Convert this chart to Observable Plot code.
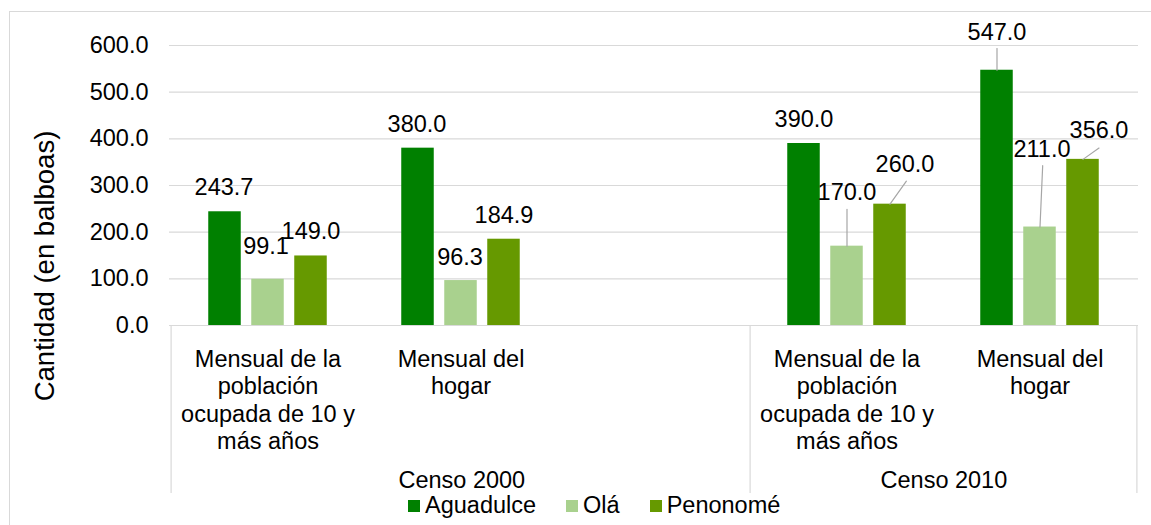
<!DOCTYPE html>
<html>
<head>
<meta charset="utf-8">
<script src="https://cdn.jsdelivr.net/npm/d3@7"></script>
<script src="https://cdn.jsdelivr.net/npm/@observablehq/plot@0.6"></script>
<style>
html, body { margin: 0; padding: 0; background: #fff; overflow: hidden; }
#wrap { position: relative; width: 1151px; height: 525px; font-family: "Liberation Sans", Arial, sans-serif; }
#border { position: absolute; left: 9px; top: 11px; width: 1300px; height: 700px; border: 1px solid #d9d9d9; box-sizing: border-box; }
#chart { position: absolute; left: 0; top: 0; }
#legend { position: absolute; left: 408px; top: 492px; }
#legend .lg-swatches { font-family: "Liberation Sans", Arial, sans-serif; font-size: 23.5px; color: #000; min-height: 0; margin: 0; }
#legend .lg-swatch { margin-right: 30px; }
#legend .lg-swatch > svg { margin-right: 5px; }
</style>
</head>
<body>
<div id="wrap"><div id="border"></div><div id="chart"></div><div id="legend"></div></div>
<script>
// ---- data ----
const censos = ["Censo 2000", "Censo 2010"];
const categorias = ["Mensual de la\npoblación\nocupada de 10 y\nmás años", "Mensual del\nhogar"];
// Censo 2000 keeps an empty third category slot, as in the source chart
const slotsPorCenso = [[0, 1, null], [0, 1]];
const municipios = ["Aguadulce", "Olá", "Penonomé"];
// values in order: Censo 2000 (cat 0, cat 1), Censo 2010 (cat 0, cat 1)
const aguadulce = [243.7, 380.0, 390.0, 547.0];
const ola = [99.1, 96.3, 170.0, 211.0];
const penonome = [149.0, 184.9, 260.0, 356.0];
const yTicks = [0, 100, 200, 300, 400, 500, 600];

// ---- styling / annotation layout ----
const colores = ["#008000", "#a9d18e", "#669900"];
const etiquetaDx = [[-1, -1, 0, 0], [-2, -1, 0, 2], [0, 0, 15, 16]];
const etiquetaDy = [[-24, -24, -24.5, -38], [-33, -23, -53.5, -78], [-24, -24, -40, -29]];
const guiaLargo = [[0, 0, 0, 21.7], [0, 0, 36.7, 61.4], [0, 0, 28.2, 19.6]];
const guiaAngulo = [[0, 0, 0, 0], [0, 0, 0, 2.5], [0, 0, 35.5, 54.8]];

const W = 1151, H = 497, mL = 169, mR = 13, mT = 45, mB = 172;
const fs = 23.5;

// ---- build tables ----
const slotKey = (c, j) => c + "|" + (j === null ? "" : j);
const slots = [];
const slotLabel = new Map();
censos.forEach((c, i) => slotsPorCenso[i].forEach(j => {
  const k = slotKey(c, j);
  slots.push(k);
  slotLabel.set(k, j === null ? "" : categorias[j]);
}));
const series = [aguadulce, ola, penonome];
const rows = [];
series.forEach((vals, k) => vals.forEach((v, j) => {
  const c = censos[Math.floor(j / 2)], cat = j % 2;
  rows.push({
    k, muni: municipios[k], slot: slotKey(c, cat), value: v,
    ldx: etiquetaDx[k][j], ldy: etiquetaDy[k][j],
    len: guiaLargo[k][j], ang: guiaAngulo[k][j]
  });
}));

const step = (W - mL - mR) / slots.length;
const barW = 33.3, barStep = 43;
const inset = (step - barW) / 2;
const frameH = H - mT - mB;
const dividerDrop = 168;

const lineShape = { draw(context, l) { context.moveTo(0, 0); context.lineTo(0, -l); } };

const firstSlots = censos.map(c => slots.find(s => s.startsWith(c + "|")));

const marks = [
  Plot.ruleY(yTicks, { stroke: "#d9d9d9", strokeWidth: 1.2 }),
  Plot.axisY({ ticks: yTicks, tickFormat: d3.format(".1f"), tickSize: 0, tickPadding: 21, fontSize: fs, label: null }),
  Plot.axisX({ tickSize: 0, tickPadding: 21.5, tickFormat: k => slotLabel.get(k), lineHeight: 1.17, fontSize: fs, lineAnchor: "top", label: null }),
  // dividers between census groups
  Plot.ruleX(firstSlots, { dx: -step / 2, stroke: "#d9d9d9", strokeWidth: 1.2, insetTop: frameH, insetBottom: -dividerDrop }),
  Plot.ruleX([slots[slots.length - 1]], { dx: step / 2, stroke: "#d9d9d9", strokeWidth: 1.2, insetTop: frameH, insetBottom: -dividerDrop }),
  ...municipios.map((m, k) => Plot.barY(rows.filter(d => d.k === k), {
    x: "slot", y: "value", fill: "muni", dx: (k - 1) * barStep, insetLeft: inset, insetRight: inset
  })),
  ...rows.filter(d => d.len > 0).map(d => Plot.vector([d], {
    x: "slot", y: "value", length: d.len, rotate: d.ang, anchor: "start", shape: lineShape,
    stroke: "#a6a6a6", strokeWidth: 1.2, dx: (d.k - 1) * barStep
  })),
  ...rows.map(d => Plot.text([d], {
    x: "slot", y: "value", text: r => r.value.toFixed(1),
    dx: (d.k - 1) * barStep + d.ldx, dy: d.ldy, fontSize: fs, fill: "#000"
  })),
  ...censos.map((c, i) => Plot.text([c], {
    x: () => firstSlots[i], text: t => t, frameAnchor: "bottom", lineAnchor: "middle",
    dy: 154.5, dx: (slotsPorCenso[i].length - 1) / 2 * step, fontSize: fs, fill: "#000"
  })),
  Plot.text(["Cantidad (en balboas)"], {
    text: t => t, frameAnchor: "left", textAnchor: "middle", lineAnchor: "middle",
    rotate: -90, dx: -124, dy: 80.5, fontSize: 27.5, fill: "#000"
  })
];

const chart = Plot.plot({
  width: W, height: H,
  marginLeft: mL, marginRight: mR, marginTop: mT, marginBottom: mB,
  style: { fontFamily: "'Liberation Sans', Arial, sans-serif", fontSize: fs + "px", color: "#000", background: "transparent", overflow: "visible" },
  x: { type: "band", domain: slots, paddingInner: 0, paddingOuter: 0 },
  y: { domain: [0, 600] },
  color: { domain: municipios, range: colores },
  marks
});
document.getElementById("chart").appendChild(chart);
const leg = chart.legend("color", { swatchSize: 12, className: "lg" });
document.getElementById("legend").appendChild(leg);
</script>
</body>
</html>
